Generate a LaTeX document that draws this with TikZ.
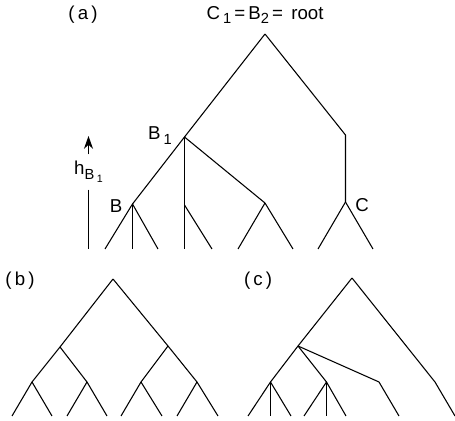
\documentclass[tikz,border=0pt]{standalone}
\usepackage{fontspec}
\setmainfont{Liberation Sans}
\usetikzlibrary{arrows.meta}

\newcommand{\lowsub}[1]{\raisebox{-0.5ex}{\fontsize{11}{12}\selectfont #1}}

\begin{document}
\begin{tikzpicture}[x=0.75pt,y=-0.75pt,
  edge/.style={line width=0.8pt, line join=round},
  lbl/.style={font=\fontsize{14}{16}\selectfont, inner sep=0pt},
  >={Stealth[length=3.4mm,width=2.4mm]}
]
  \useasboundingbox (0,0) rectangle (455,421);

  \node[lbl] (tagA) at (83,15) {(\,a\,)};
  \node[lbl] (rootlab) at (265,15) {C\,\lowsub{1}\,=\,B\lowsub{2}\,=\, root};
  \coordinate (aRoot) at (265,34);
  \coordinate (B1) at (184.5,137);
  \coordinate (Cbend) at (345.5,135);
  \coordinate (C) at (345.5,202);
  \coordinate (B) at (132.5,204);
  \coordinate (Bv) at (184.5,205);
  \coordinate (Br) at (265,203);
  \coordinate (a1) at (105,249);
  \coordinate (a2) at (132.5,249);
  \coordinate (a3) at (158,249);
  \coordinate (a4) at (184.5,249);
  \coordinate (a5) at (212,249);
  \coordinate (a6) at (238,249);
  \coordinate (a7) at (293,249);
  \coordinate (a8) at (318,249);
  \coordinate (a9) at (373,249);
  \node[lbl] (B1lab) at (160,136) {B\,\lowsub{1}};
  \node[lbl] (Blab) at (116,206) {B};
  \node[lbl] (Clab) at (362,205) {C};
  \node[lbl] (hlab) at (88.5,172) {h\lowsub{B\,\raisebox{-0.4ex}{\fontsize{8}{9}\selectfont 1}}};
  \coordinate (htip) at (88.5,136);
  \coordinate (hbot) at (88.5,249);

  \draw[edge] (aRoot) -- (B1) -- (B);
  \draw[edge] (aRoot) -- (Cbend) -- (C);
  \draw[edge] (B1) -- (Bv);
  \draw[edge] (B1) -- (Br);
  \draw[edge] (B) -- (a1);
  \draw[edge] (B) -- (a2);
  \draw[edge] (B) -- (a3);
  \draw[edge] (Bv) -- (a4);
  \draw[edge] (Bv) -- (a5);
  \draw[edge] (Br) -- (a6);
  \draw[edge] (Br) -- (a7);
  \draw[edge] (C) -- (a8);
  \draw[edge] (C) -- (a9);
  \draw[edge, ->, shorten <=5pt] (hlab) -- (htip);
  \draw[edge, shorten <=5pt] (hlab) -- (hbot);

  \node[lbl] (tagB) at (20,281) {(\,b\,)};
  \coordinate (bRoot) at (113,279);
  \coordinate (bL) at (60,347);
  \coordinate (bR) at (168,346);
  \coordinate (bLL) at (32,382);
  \coordinate (bLR) at (87,382);
  \coordinate (bRL) at (141,382);
  \coordinate (bRR) at (197,382);
  \coordinate (b1) at (12,416);
  \coordinate (b2) at (52,416);
  \coordinate (b3) at (67,416);
  \coordinate (b4) at (107,416);
  \coordinate (b5) at (121,416);
  \coordinate (b6) at (162,416);
  \coordinate (b7) at (177,416);
  \coordinate (b8) at (218,416);

  \draw[edge] (bRoot) -- (bL);
  \draw[edge] (bRoot) -- (bR);
  \draw[edge] (bL) -- (bLL);
  \draw[edge] (bL) -- (bLR);
  \draw[edge] (bR) -- (bRL);
  \draw[edge] (bR) -- (bRR);
  \draw[edge] (bLL) -- (b1);
  \draw[edge] (bLL) -- (b2);
  \draw[edge] (bLR) -- (b3);
  \draw[edge] (bLR) -- (b4);
  \draw[edge] (bRL) -- (b5);
  \draw[edge] (bRL) -- (b6);
  \draw[edge] (bRR) -- (b7);
  \draw[edge] (bRR) -- (b8);

  \node[lbl] (tagC) at (258,281) {(\,c\,)};
  \coordinate (cRoot) at (352,278);
  \coordinate (X) at (298,346);
  \coordinate (Y) at (270.5,382);
  \coordinate (Z) at (326.5,382);
  \coordinate (W) at (379,382);
  \coordinate (Rbend) at (435,382);
  \coordinate (c1) at (248,416);
  \coordinate (c2) at (270.5,416);
  \coordinate (c3) at (291,416);
  \coordinate (c4) at (304,416);
  \coordinate (c5) at (326.5,416);
  \coordinate (c6) at (346,416);
  \coordinate (c7) at (399,416);
  \coordinate (c8) at (455,416);

  \draw[edge] (cRoot) -- (X) -- (Y);
  \draw[edge] (cRoot) -- (Rbend) -- (c8);
  \draw[edge] (X) -- (Z);
  \draw[edge] (X) -- (W) -- (c7);
  \draw[edge] (Y) -- (c1);
  \draw[edge] (Y) -- (c2);
  \draw[edge] (Y) -- (c3);
  \draw[edge] (Z) -- (c4);
  \draw[edge] (Z) -- (c5);
  \draw[edge] (Z) -- (c6);
\end{tikzpicture}
\end{document}
